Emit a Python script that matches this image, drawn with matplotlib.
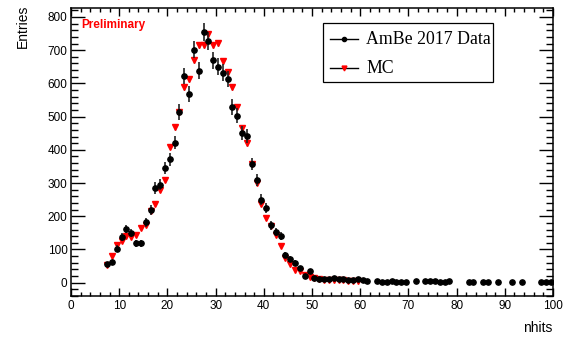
import numpy as np
import matplotlib
matplotlib.use('Agg')
import matplotlib.pyplot as plt
from matplotlib.ticker import MultipleLocator
from matplotlib.lines import Line2D
from matplotlib.patches import Rectangle

plt.rcParams['font.family'] = ['Liberation Sans', 'DejaVu Sans']

# AmBe 2017 data (bin centres, entries)
data_x = [7.5, 8.5, 9.5, 10.5, 11.5, 12.5, 13.5, 14.5, 15.5, 16.5,
          17.5, 18.5, 19.5, 20.5, 21.5, 22.5, 23.5, 24.5, 25.5, 26.5,
          27.5, 28.5, 29.5, 30.5, 31.5, 32.5, 33.5, 34.5, 35.5, 36.5,
          37.5, 38.5, 39.5, 40.5, 41.5, 42.5, 43.5, 44.5, 45.5, 46.5,
          47.5, 48.5, 49.5, 50.5, 51.5, 52.5, 53.5, 54.5, 55.5, 56.5,
          57.5, 58.5, 59.5, 60.5, 61.5, 63.5, 64.5, 65.5, 66.5, 67.5,
          68.5, 69.5, 71.5, 73.5, 74.5, 75.5, 76.5, 77.5, 78.5, 82.5,
          83.5, 85.5, 86.5, 88.5, 91.5, 93.5, 97.5, 98.5, 99.5]
data_y = [55, 62, 102, 138, 162, 150, 119, 119, 182, 219,
          285, 295, 345, 372, 422, 514, 622, 569, 702, 638,
          755, 728, 670, 650, 632, 613, 529, 503, 450, 443,
          357, 309, 250, 226, 173, 152, 140, 83, 72, 60,
          45, 21, 34, 15, 12, 10, 10, 15, 12, 10,
          9, 7, 10, 8, 4, 5, 2, 2, 4, 2,
          3, 1, 5, 4, 4, 4, 3, 2, 4, 3,
          2, 3, 3, 3, 2, 1, 3, 3, 1]

# MC
mc_x = [7.5, 8.5, 9.5, 10.5, 11.5, 12.5, 13.5, 14.5, 15.5, 16.5,
        17.5, 18.5, 19.5, 20.5, 21.5, 22.5, 23.5, 24.5, 25.5, 26.5,
        27.5, 28.5, 29.5, 30.5, 31.5, 32.5, 33.5, 34.5, 35.5, 36.5,
        37.5, 38.5, 39.5, 40.5, 41.5, 42.5, 43.5, 44.5, 45.5, 46.5,
        47.5, 48.5, 49.5, 50.5, 51.5, 52.5, 53.5, 54.5, 55.5, 56.5,
        57.5, 58.5, 59.5]
mc_y = [53, 81, 115, 125, 142, 139, 143, 166, 174, 215,
        237, 278, 310, 409, 468, 514, 588, 613, 670, 715,
        717, 748, 715, 721, 668, 633, 590, 530, 467, 420,
        357, 300, 237, 194, 170, 144, 110, 74, 55, 38,
        35, 22, 18, 13, 10, 9, 8, 9, 8, 7,
        6, 5, 6]

legend_labels = ['AmBe 2017 Data', 'MC']

data_err = np.sqrt(np.array(data_y, dtype=float))
mc_err = 0.35 * np.sqrt(np.array(mc_y, dtype=float))

W, H = 571, 338
fig = plt.figure(figsize=(W/100, H/100), dpi=100)
ax = fig.add_axes([71/W, 1-296/H, 482/W, 288/H])

ax.errorbar(mc_x, mc_y, yerr=mc_err, fmt='v', color='red', ms=4,
            ecolor='#333333', elinewidth=1.0, capsize=0, zorder=2)
ax.errorbar(data_x, data_y, yerr=data_err, fmt='o', color='black', ms=3.8,
            ecolor='#222222', elinewidth=1.2, capsize=0, zorder=3)

ax.set_xlim(0, 100)
ax.set_ylim(-40, 827)
ax.xaxis.set_major_locator(MultipleLocator(10))
ax.xaxis.set_minor_locator(MultipleLocator(2))
ax.yaxis.set_major_locator(MultipleLocator(100))
ax.yaxis.set_minor_locator(MultipleLocator(20))

for s in ax.spines.values():
    s.set_linewidth(1.1)
ax.tick_params(which='both', direction='in', top=True, right=True,
               labelsize=8.5, width=1.0)
ax.tick_params(axis='x', which='major', length=5.6, pad=3)
ax.tick_params(axis='x', which='minor', length=2.8)
ax.tick_params(axis='y', which='major', length=10, pad=2.5)
ax.tick_params(axis='y', which='minor', length=5)

fig.text(23/W, 1-5/H, 'Entries', rotation=90, ha='center', va='top', fontsize=10)
fig.text(552/W, 1-332/H, 'nhits', ha='right', va='baseline', fontsize=10)
fig.text(81/W, 1-28/H, 'Preliminary', color='red', fontweight='bold',
         fontsize=8.5, ha='left', va='baseline')

# legend box drawn by hand (ROOT TLegend look)
def fx(px):
    return px / W

def fy(py):
    return 1 - py / H

fig.patches.append(Rectangle((fx(322.7), fy(82.3)), fx(493.3) - fx(322.7), fy(22.7) - fy(82.3),
                             transform=fig.transFigure, fill=True, facecolor='white',
                             edgecolor='black', lw=0.9, zorder=5))
rows = [39.3, 68.3]
markers = [dict(marker='o', ms=3, mfc='black', mec='black'),
           dict(marker='v', ms=3.5, mfc='red', mec='red')]
for ry, lab, mk in zip(rows, legend_labels, markers):
    fig.lines.append(Line2D([fx(330), fx(358.3)], [fy(ry), fy(ry)], color='black', lw=1,
                            transform=fig.transFigure, zorder=6))
    fig.lines.append(Line2D([fx(344)], [fy(ry)], ls='none', transform=fig.transFigure,
                            zorder=7, **mk))
    fig.text(fx(366), fy(ry), lab, family='Liberation Serif', fontsize=12.8,
             ha='left', va='center', zorder=7)

fig.savefig('out.png', dpi=100)
